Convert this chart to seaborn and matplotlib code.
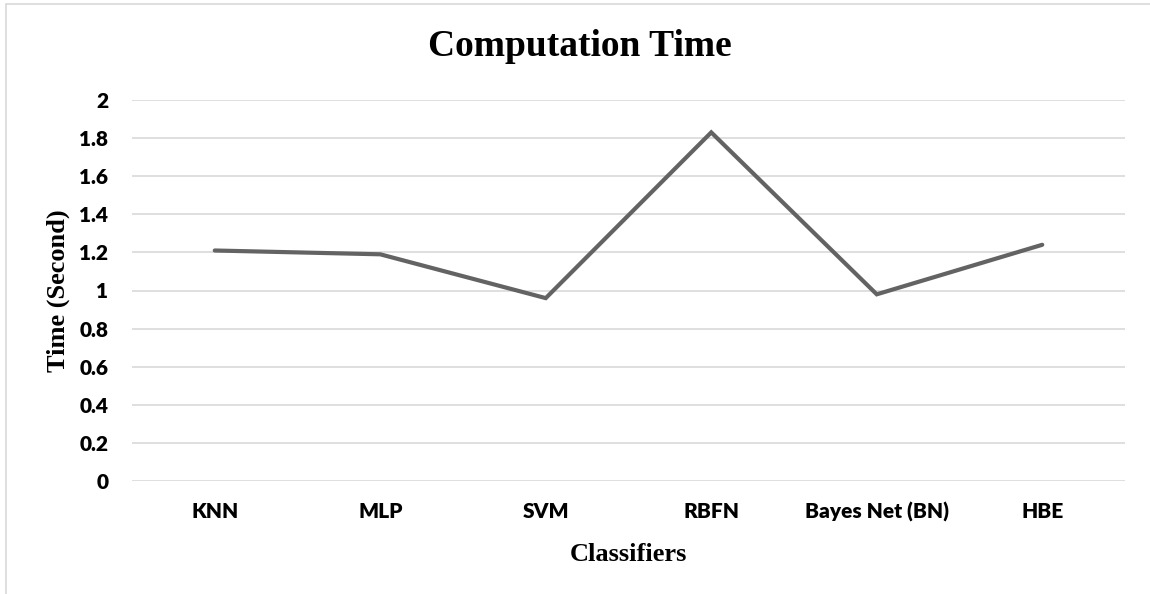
import matplotlib
matplotlib.use("Agg")
import matplotlib.pyplot as plt
import seaborn as sns
import pandas as pd
from matplotlib.lines import Line2D
from matplotlib import font_manager

classifiers = ["KNN", "MLP", "SVM", "RBFN", "Bayes Net (BN)", "HBE"]
times = [1.21, 1.19, 0.96, 1.83, 0.98, 1.24]
y_ticks = [0, 0.2, 0.4, 0.6, 0.8, 1, 1.2, 1.4, 1.6, 1.8, 2]
y_tick_labels = ["0", "0.2", "0.4", "0.6", "0.8", "1", "1.2", "1.4", "1.6", "1.8", "2"]

# pick a sans family that actually has a bold face installed
bold_fams = set()
for f in font_manager.fontManager.ttflist:
    w = f.weight
    if isinstance(w, str):
        w = font_manager.weight_dict.get(w, 400)
    if w >= 700:
        bold_fams.add(f.name)
sans = "Liberation Sans"
for cand in ["Lato", "Open Sans", "Noto Sans", "Roboto", "Liberation Sans"]:
    if cand in bold_fams:
        sans = cand
        break

sns.set_theme(style="white")
plt.rcParams['font.family'] = [sans, 'DejaVu Sans']

df = pd.DataFrame({"Classifier": classifiers, "Time": times})

fig = plt.figure(figsize=(11.5, 5.94), dpi=100)
ax = fig.add_axes([132/1150, 1-481/594, (1125-132)/1150, (481-100)/594])

xpos = list(range(len(classifiers)))
df["pos"] = xpos
sns.lineplot(data=df, x="pos", y="Time", ax=ax, color="#636363", linewidth=3.0,
             sort=False, solid_capstyle="round", solid_joinstyle="miter")

ax.set_xlim(-0.5, len(classifiers) - 0.5)
ax.set_ylim(0, 2)
ax.set_yticks(y_ticks)
ax.set_yticklabels(y_tick_labels, fontweight=800, fontsize=15, color="black", family=[sans])
ax.set_xticks(xpos)
ax.set_xticklabels(classifiers, fontweight=800, fontsize=15, color="black", family=[sans])
ax.tick_params(axis="y", length=0, pad=17)
ax.tick_params(axis="x", length=0, pad=15)

ax.grid(axis="y", color="#d9d9d9", linewidth=1.2)
ax.grid(axis="x", visible=False)
ax.set_axisbelow(True)
for s in ax.spines.values():
    s.set_visible(False)

serif = ["Liberation Serif", "DejaVu Serif"]
ax.set_xlabel("Classifiers", family=serif, fontweight="bold", fontsize=19, labelpad=15, color="black")
ax.set_ylabel("Time (Second)", family=serif, fontweight="bold", fontsize=19, labelpad=7, color="black")
fig.text(580/1150, 1-47/594, "Computation Time", family=serif, fontweight="bold",
         fontsize=27, ha="center", va="center", color="black")

fig.add_artist(Line2D([6/1150, 6/1150], [0, 1-4/594], color="#d9d9d9", linewidth=1.2, transform=fig.transFigure))
fig.add_artist(Line2D([6/1150, 1], [1-4/594, 1-4/594], color="#d9d9d9", linewidth=1.2, transform=fig.transFigure))

fig.savefig("out.png", dpi=100, facecolor="white")
